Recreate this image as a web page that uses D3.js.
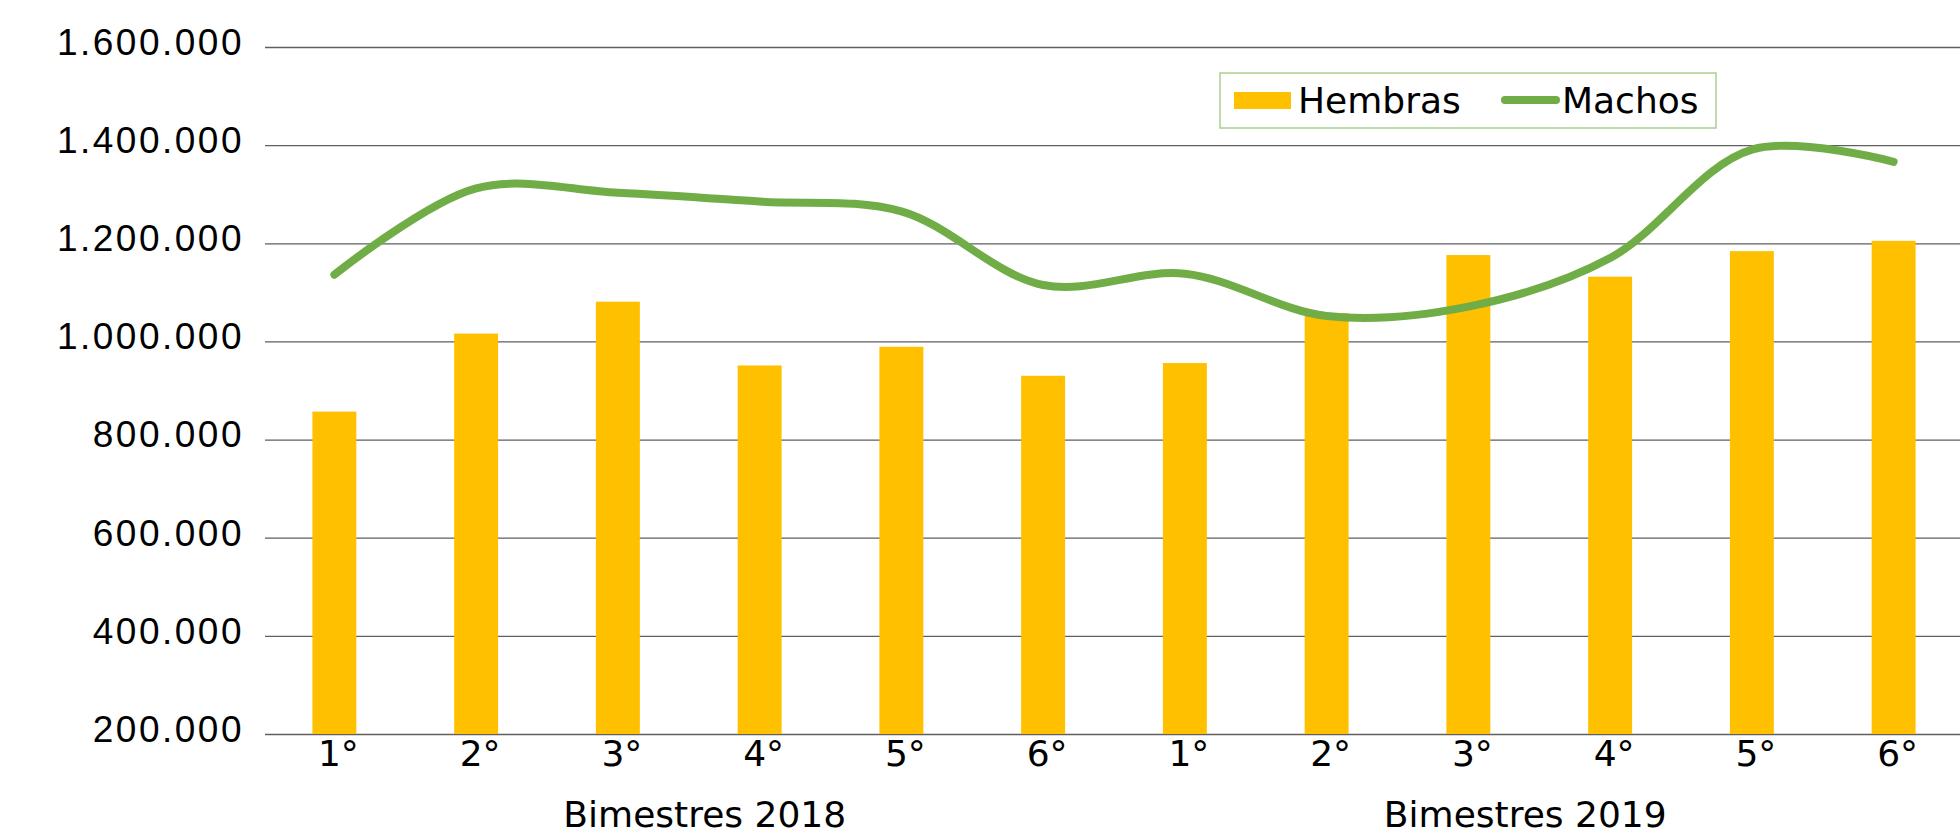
<!DOCTYPE html>
<html>
<head>
<meta charset="utf-8">
<script src="https://cdn.jsdelivr.net/npm/d3@7"></script>
<style>
  body { margin: 0; background: #fff; }
  svg { display: block; font-family: "DejaVu Sans", sans-serif; }
</style>
</head>
<body>
<svg id="chart" width="1960" height="836"></svg>
<script>
// bimestres, two years
const categories = ["1°", "2°", "3°", "4°", "5°", "6°", "1°", "2°", "3°", "4°", "5°", "6°"];
const groups = ["Bimestres 2018", "Bimestres 2019"];
const hembras = [857000, 1016000, 1081000, 951000, 989000, 930000, 956000, 1058000, 1176000, 1132000, 1184000, 1205000];
const machos = [1136000, 1312000, 1303000, 1285000, 1265000, 1115000, 1138000, 1052000, 1071000, 1170000, 1391000, 1366000];
const yTicks = [200000, 400000, 600000, 800000, 1000000, 1200000, 1400000, 1600000];

let svg = d3.select('#chart');
let plotLeft = 263.5, plotRight = 1964.5, plotTop = 47, plotBottom = 734;

let x = d3.scaleBand()
    .domain(d3.range(categories.length))
    .range([plotLeft, plotRight])
    .paddingInner(0.69)
    .paddingOuter(0.345);
let y = d3.scaleLinear().domain([200000, 1600000]).range([plotBottom, plotTop]);

let es = d3.formatLocale({decimal: ",", thousands: ".", grouping: [3], currency: ["", "€"]});
let fmt = es.format(",");

// gridlines + y labels
let yAxis = svg.append('g')
    .attr('transform', 'translate(' + (plotLeft + 1.5) + ',0)')
    .call(d3.axisLeft(y).tickValues(yTicks).tickFormat(fmt).tickSize(-(1960 - plotLeft)).tickPadding(21));
yAxis.select('.domain').remove();
yAxis.selectAll('line').attr('stroke', '#5f5f5f').attr('stroke-width', 1.3);
yAxis.selectAll('text')
    .attr('font-size', 37)
    .attr('letter-spacing', 2.5)
    .attr('fill', '#000')
    .attr('dy', '0.2em');

// bars
svg.append('g').selectAll('rect')
    .data(hembras)
    .enter().append('rect')
    .attr('x', function(d, i) { return x(i); })
    .attr('y', function(d) { return y(d); })
    .attr('width', x.bandwidth())
    .attr('height', function(d) { return y(200000) - y(d); })
    .attr('fill', '#FFC000');

// smoothed line
let line = d3.line()
    .x(function(d, i) { return x(i) + x.bandwidth() / 2; })
    .y(function(d) { return y(d); })
    .curve(d3.curveCatmullRom.alpha(0.5));

svg.append('path')
    .datum(machos)
    .attr('d', line)
    .attr('fill', 'none')
    .attr('stroke', '#70AD47')
    .attr('stroke-width', 8)
    .attr('stroke-linecap', 'round');

// x labels
svg.append('g').selectAll('text')
    .data(categories)
    .enter().append('text')
    .attr('x', function(d, i) { return x(i) + x.bandwidth() / 2 + 4; })
    .attr('y', 766)
    .attr('text-anchor', 'middle')
    .attr('font-size', 36)
    .text(function(d) { return d; });

let groupDx = [16, -14];
svg.append('g').selectAll('text')
    .data(groups)
    .enter().append('text')
    .attr('x', function(d, i) {
        let a = x(i * 6), b = x(i * 6 + 5) + x.bandwidth();
        return (a + b) / 2 + groupDx[i];
    })
    .attr('y', 827)
    .attr('text-anchor', 'middle')
    .attr('font-size', 36)
    .text(function(d) { return d; });

// legend
let legend = svg.append('g').attr('transform', 'translate(1220,73)');
legend.append('rect')
    .attr('width', 496).attr('height', 55)
    .attr('fill', '#fff')
    .attr('stroke', '#A9D18E')
    .attr('stroke-width', 1.5);
legend.append('rect')
    .attr('x', 14).attr('y', 19).attr('width', 57).attr('height', 17)
    .attr('fill', '#FFC000');
legend.append('text')
    .attr('x', 78).attr('y', 40).attr('font-size', 36)
    .text('Hembras');
legend.append('line')
    .attr('x1', 285).attr('x2', 336).attr('y1', 27).attr('y2', 27)
    .attr('stroke', '#70AD47').attr('stroke-width', 8).attr('stroke-linecap', 'round');
legend.append('text')
    .attr('x', 342).attr('y', 40).attr('font-size', 36)
    .text('Machos');
</script>
</body>
</html>
